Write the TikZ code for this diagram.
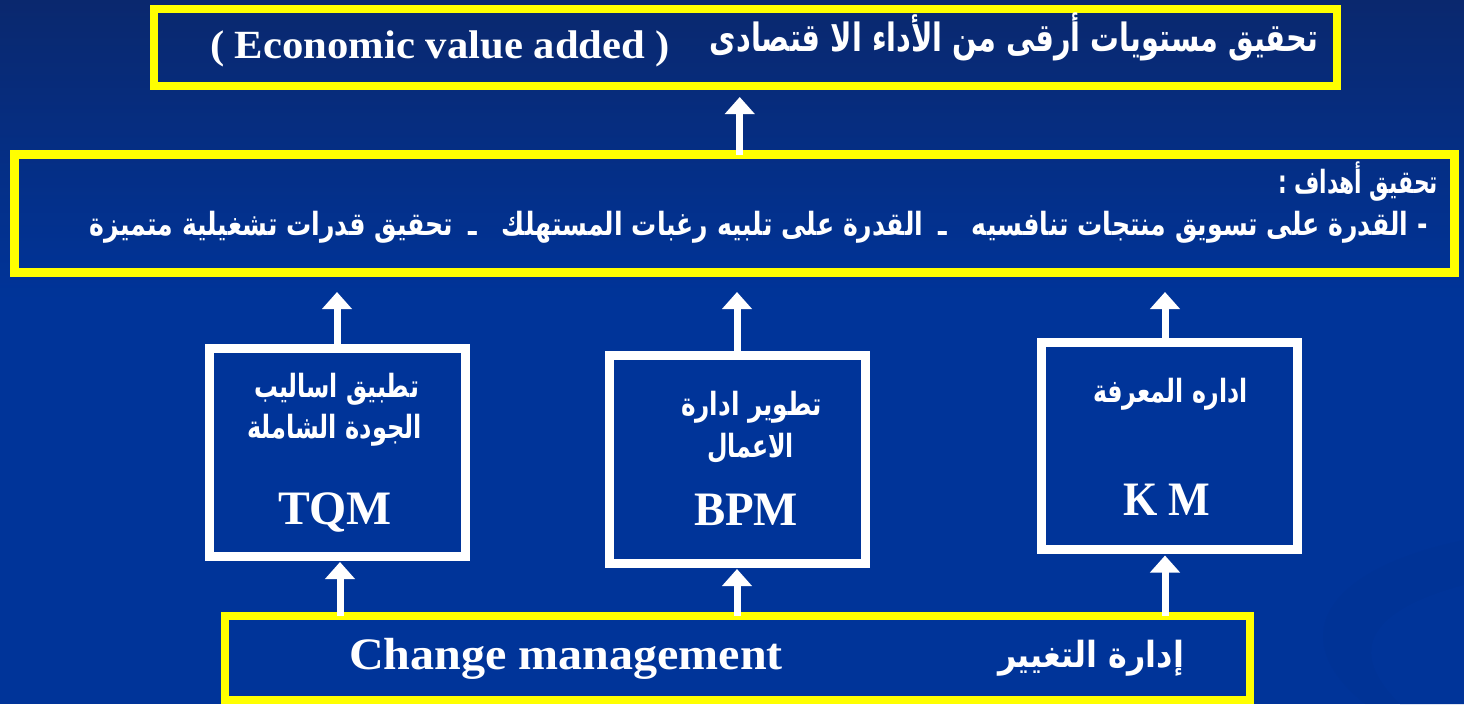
\documentclass[tikz,border=0pt]{standalone}
\usepackage{fontspec}
\usepackage{graphicx}
\setmainfont{Liberation Serif}
\newfontfamily\arabicfont[Script=Arabic]{DejaVu Sans}
\TeXXeTstate=1
\usetikzlibrary{arrows.meta,calc}
\definecolor{bgtop}{RGB}{10,40,110}
\definecolor{bgmid}{RGB}{0,52,153}
\definecolor{swoosh}{RGB}{0,44,135}
\definecolor{yboxc}{RGB}{255,255,0}
\newcommand\fitw[2]{\resizebox{#1}{\height}{#2}}
\newcommand\artxt[2]{{\arabicfont\bfseries\fontsize{#1}{#1}\selectfont #2}}
\newcommand\entxt[1]{\fontsize{#1}{#1}\selectfont\bfseries}
\begin{document}
\begin{tikzpicture}[x=1pt,y=-1pt,
  ybox/.style={draw=yboxc, line width=8pt, inner sep=0pt, outer sep=0pt},
  wbox/.style={draw=white, line width=9pt, inner sep=0pt, outer sep=0pt},
  txt/.style={text=white, inner sep=0pt, outer sep=0pt},
  arr/.style={draw=white, line width=7pt, -{Triangle[width=29pt,length=17pt]}}]
\fill[top color=bgtop, bottom color=bgmid] (0,0) rectangle (1464,300);
\fill[bgmid] (0,299) rectangle (1464,704);
\fill[swoosh, opacity=0.12] (1464,540) .. controls (1320,570) and (1285,640) .. (1365,704) -- (1464,704) -- cycle;
\fill[bgmid] (1464,585) .. controls (1370,610) and (1345,650) .. (1400,704) -- (1464,704) -- cycle;
\useasboundingbox (0,0) rectangle (1464,704);

% boxes
\node[ybox, minimum width=1183pt, minimum height=77pt] (top) at (745.5,47.5) {};
\node[ybox, line width=9pt, minimum width=1440pt, minimum height=118pt] (goals) at (734.75,213.5) {};
\node[wbox, minimum width=256pt, minimum height=208pt] (tqm) at (337,452) {};
\node[wbox, minimum width=256pt, minimum height=207.5pt] (bpm) at (737,459.25) {};
\node[wbox, minimum width=256pt, minimum height=207.5pt] (km) at (1169,445.75) {};
\node[ybox, minimum width=1025pt, minimum height=84pt] (chg) at (737.5,658) {};

% texts
\node[txt, anchor=base west] (evadd) at (210,58) {\fitw{460pt}{\entxt{40}( Economic value added )}};
\node[txt, anchor=base east] (evar) at (1318,51) {\fitw{608pt}{\artxt{39}{\beginR تحقيق مستويات أرقى من الأداء الا قتصادى\endR}}};
\node[txt, anchor=base east] (g1) at (1438,193) {\fitw{160pt}{\artxt{32}{\beginR تحقيق أهداف :\endR}}};
\node[txt, anchor=base east] (g2) at (1428,235) {\fitw{1338pt}{\artxt{32}{\beginR - القدرة على تسويق منتجات تنافسيه\hspace{1em}ـ\hspace{0.6em}القدرة على تلبيه رغبات المستهلك\hspace{1em}ـ\hspace{0.6em}تحقيق قدرات تشغيلية متميزة\endR}}};

\node[txt, anchor=base] (t1) at (336.5,397) {\fitw{165pt}{\artxt{32}{\beginR تطبيق اساليب\endR}}};
\node[txt, anchor=base] (t2) at (334.5,438) {\fitw{175pt}{\artxt{32}{\beginR الجودة الشاملة\endR}}};
\node[txt, anchor=base] (tqmt) at (335,524) {\fitw{114pt}{\entxt{48}TQM}};

\node[txt, anchor=base] (b1) at (751.5,415) {\fitw{141pt}{\artxt{32}{\beginR تطوير ادارة\endR}}};
\node[txt, anchor=base] (b2) at (750.5,457) {\fitw{87pt}{\artxt{32}{\beginR الاعمال\endR}}};
\node[txt, anchor=base] (bpmt) at (746,525) {\fitw{104pt}{\entxt{48}BPM}};

\node[txt, anchor=base] (k1) at (1170.5,402) {\fitw{155pt}{\artxt{32}{\beginR اداره المعرفة\endR}}};
\node[txt, anchor=base] (kmt) at (1167,515) {\fitw{87pt}{\entxt{48}K M}};

\node[txt, anchor=base west] (cm) at (349,669) {\fitw{434pt}{\entxt{45}Change management}};
\node[txt, anchor=base east] (cmar) at (1184,667) {\fitw{186pt}{\artxt{36}{\beginR إدارة التغيير\endR}}};

% arrows
\draw[arr, shorten >=11pt] ([xshift=5pt]goals.north) -- ([xshift=5pt]goals.north |- top.south);
\draw[arr, shorten >=19.5pt] (tqm.north) -- (tqm.north |- goals.south);
\draw[arr, shorten >=19.5pt] (bpm.north) -- (bpm.north |- goals.south);
\draw[arr, shorten >=19.5pt] ([xshift=-4pt]km.north) -- ([xshift=-4pt]km.north |- goals.south);
\draw[arr, shorten >=6pt] ([xshift=3pt]tqm.south |- chg.north) -- ([xshift=3pt]tqm.south);
\draw[arr, shorten >=6pt] (bpm.south |- chg.north) -- (bpm.south);
\draw[arr, shorten >=6pt] ([xshift=-4pt]km.south |- chg.north) -- ([xshift=-4pt]km.south);
\end{tikzpicture}
\end{document}
